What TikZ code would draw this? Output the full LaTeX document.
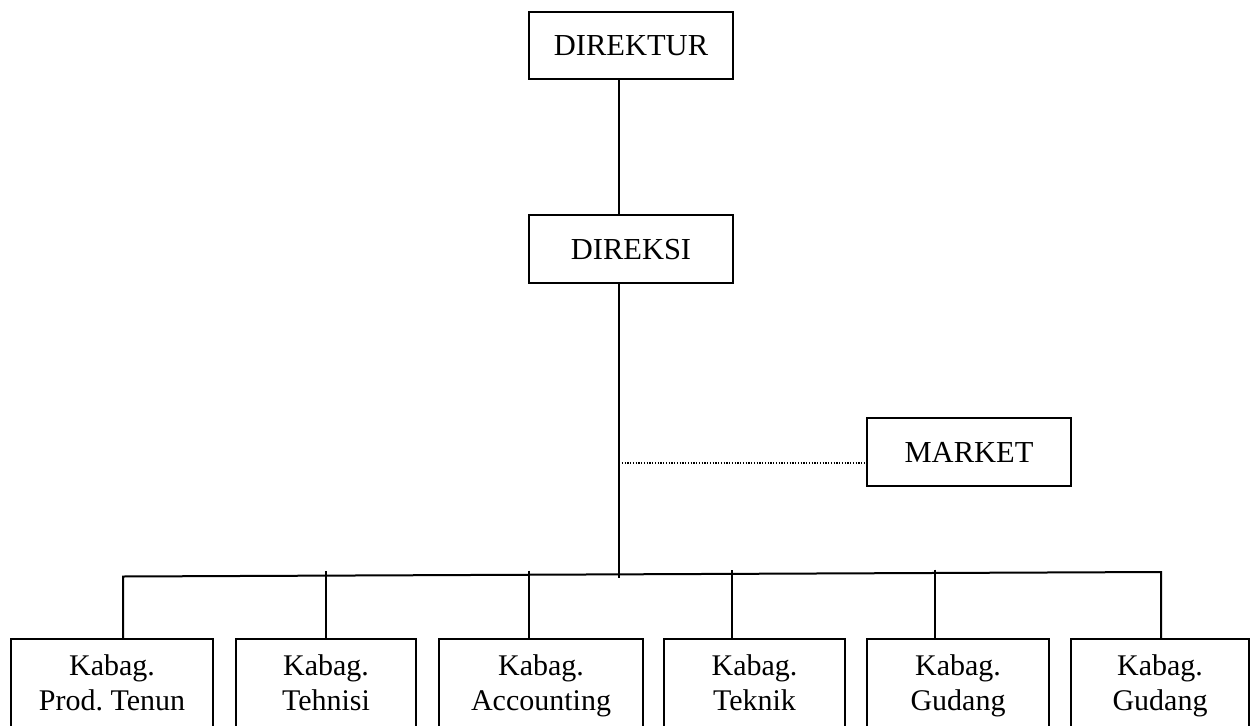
\documentclass[tikz,border=0pt]{standalone}
\usepackage{fontspec}
\setmainfont{Liberation Serif}
\frenchspacing
\newcommand\twoline[2]{\strut#1\\\strut#2}
\begin{document}
\begin{tikzpicture}[x=0.4pt,y=-0.4pt,
  line width=0.8pt,
  unitbox/.style={draw, line width=0.8pt, inner sep=0pt, outer sep=0pt,
    anchor=north west, align=center},
  headbox/.style={unitbox, font=\fontsize{12.2}{15}\selectfont,
    minimum width=81.6pt, minimum height=27pt},
  deptbox/.style={unitbox, font=\fontsize{12}{14}\selectfont,
    minimum height=37.2pt},
  link/.style={line width=0.8pt},
  staffline/.style={line width=0.6pt, dash pattern=on 0.5pt off 0.6pt}]

\useasboundingbox (0,0) rectangle (1250,725);
\clip (0,0) rectangle (1250,725);

% top of the chart
\node[headbox] (dir) at (529,12) {DIREKTUR};
\node[headbox] (dks) at (529,215.5) {DIREKSI};
\node[headbox, minimum height=27.2pt] (mk) at (867,418) {MARKET};

% departments
\node[deptbox, minimum width=80.8pt] (k1) at (11,639)   {\twoline{Kabag.}{Prod. Tenun}};
\node[deptbox, minimum width=72pt]   (k2) at (236,639)  {\twoline{Kabag.}{Tehnisi}};
\node[deptbox, minimum width=81.6pt] (k3) at (439,639)  {\twoline{Kabag.}{Accounting}};
\node[deptbox, minimum width=72.4pt] (k4) at (664,639)  {\twoline{Kabag.}{Teknik}};
\node[deptbox, minimum width=72.8pt] (k5) at (867,639)  {\twoline{Kabag.}{Gudang}};
\node[deptbox, minimum width=71.2pt] (k6) at (1071,639) {\twoline{Kabag.}{Gudang}};

% trunk line
\coordinate (v)  at (619,0);
\coordinate (vb) at (619,577.5);
\draw[link] (v |- dir.south) -- (v |- dks.north);
\draw[link] (v |- dks.south) -- (vb);

% staff link to MARKET
\coordinate (sj) at (619,463);
\draw[staffline] (sj) -- (sj -| mk.west);

% distribution bus
\coordinate (bL) at (123,576.5);
\coordinate (bR) at (1161,572);
\draw[link] (bL |- k1.north) -- (bL) -- (bR) -- (bR |- k6.north);

% drops to the middle departments
\coordinate (b2) at (326,571);
\coordinate (b3) at (529,570.5);
\coordinate (b4) at (732,570);
\coordinate (b5) at (935,569.5);
\draw[link] (b2) -- (b2 |- k2.north);
\draw[link] (b3) -- (b3 |- k3.north);
\draw[link] (b4) -- (b4 |- k4.north);
\draw[link] (b5) -- (b5 |- k5.north);
\end{tikzpicture}
\end{document}
